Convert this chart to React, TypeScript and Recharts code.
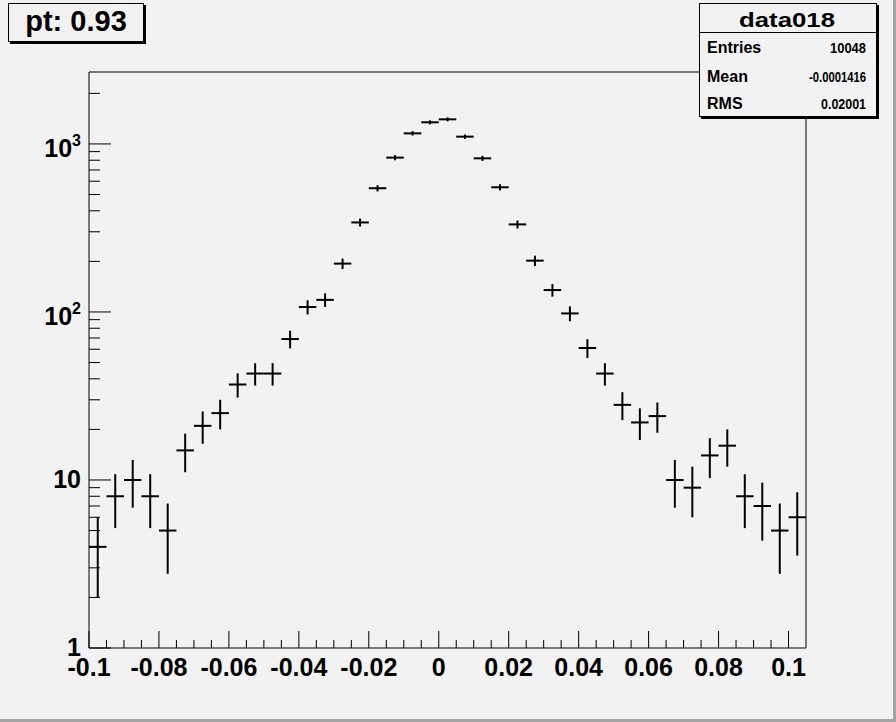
import { ComposedChart, Scatter, ErrorBar, XAxis, YAxis, ReferenceArea } from "recharts";

// bin centres (width 0.005) and entries per bin
const binCenters = [
  -0.0975, -0.0925, -0.0875, -0.0825, -0.0775, -0.0725, -0.0675, -0.0625, -0.0575, -0.0525,
  -0.0475, -0.0425, -0.0375, -0.0325, -0.0275, -0.0225, -0.0175, -0.0125, -0.0075, -0.0025,
  0.0025, 0.0075, 0.0125, 0.0175, 0.0225, 0.0275, 0.0325, 0.0375, 0.0425, 0.0475,
  0.0525, 0.0575, 0.0625, 0.0675, 0.0725, 0.0775, 0.0825, 0.0875, 0.0925, 0.0975, 0.1025,
];
const counts = [
  4, 8, 10, 8, 5, 15, 21, 25, 37, 43,
  43, 69, 107, 118, 194, 341, 545, 829, 1156, 1345,
  1401, 1105, 821, 552, 332, 202, 135, 98, 61, 43,
  28, 22, 24, 10, 9, 14, 16, 8, 7, 5, 6,
];
const halfBin = 0.0025;

const xMajor = [-0.1, -0.08, -0.06, -0.04, -0.02, 0, 0.02, 0.04, 0.06, 0.08, 0.1];
const xLabels = ["-0.1", "-0.08", "-0.06", "-0.04", "-0.02", "0", "0.02", "0.04", "0.06", "0.08", "0.1"];
const xMinor = xMajor.slice(0, -1).flatMap((m) => [1, 2, 3].map((k) => +(m + k * 0.005).toFixed(4)));

const yMajor = [1, 10, 100, 1000];
const yLabels = [["1", ""], ["10", ""], ["10", "2"], ["10", "3"]];
const yMinor = [2, 3, 4, 5, 6, 7, 8, 9, 20, 30, 40, 50, 60, 70, 80, 90, 200, 300, 400, 500, 600, 700, 800, 900, 2000];

const statLabels = ["Entries", "Mean", "RMS"];
const statValues = ["10048", "-0.0001416", "0.02001"];

const data = binCenters.map((x, i) => ({ x, y: counts[i], ex: halfBin, ey: Math.sqrt(counts[i]) }));

const FONT = "'Liberation Sans', Arial, Helvetica, sans-serif";

function XTick(props: any) {
  const { x, y, payload } = props;
  const i = xMajor.findIndex((m) => Math.abs(m - payload.value) < 1e-9);
  return (
    <g>
      <line x1={x} x2={x} y1={y} y2={y - (i >= 0 ? 17 : 8)} stroke="#000" />
      {i >= 0 && (
        <text x={x} y={y + 28} textAnchor="middle" fontFamily={FONT} fontWeight="bold" fontSize={25} fill="#000">
          {xLabels[i]}
        </text>
      )}
    </g>
  );
}

function YTick(props: any) {
  const { x, y, payload } = props;
  const i = yMajor.findIndex((m) => Math.abs(m - payload.value) < 1e-6);
  const [base, sup] = i >= 0 ? yLabels[i] : ["", ""];
  return (
    <g>
      <line x1={x} x2={x + (i >= 0 ? 22 : 11)} y1={y} y2={y} stroke="#000" />
      {i >= 0 && (
        <text x={81} y={y + (sup ? 13 : 8)} textAnchor="end" fontFamily={FONT} fontWeight="bold" fontSize={25} fill="#000">
          <tspan>{base}</tspan>
          {sup && (
            <tspan dy={-11} fontSize={16}>
              {sup}
            </tspan>
          )}
        </text>
      )}
    </g>
  );
}

function Boxes() {
  return (
    <svg width={896} height={722} style={{ position: "absolute", left: 0, top: 0, pointerEvents: "none" }}>
      <rect x={893} y={0} width={3} height={722} fill="#a4a4a4" />
      <rect x={0} y={719} width={896} height={3} fill="#a4a4a4" />

      <rect x={10} y={5} width={136} height={39} fill="#000" />
      <rect x={8.5} y={3.5} width={135} height={38} fill="#f2f2f2" stroke="#000" />
      <text x={76} y={31} textAnchor="middle" fontFamily={FONT} fontWeight="bold" fontSize={29} fill="#000">
        pt: 0.93
      </text>

      <rect x={701} y={5} width={178} height={114} fill="#000" />
      <rect x={699.5} y={3.5} width={177} height={113} fill="#f2f2f2" stroke="#000" />
      <line x1={699.5} x2={876.5} y1={32.5} y2={32.5} stroke="#000" />
      <text x={787} y={27} textAnchor="middle" fontFamily={FONT} fontWeight="bold" fontSize={21} textLength={96} lengthAdjust="spacingAndGlyphs" fill="#000">
        data018
      </text>
      {statLabels.map((l, i) => (
        <text key={l} x={707} y={[53, 82, 109][i]} fontFamily={FONT} fontWeight="bold" fontSize={16} fill="#000">
          {l}
        </text>
      ))}
      {statValues.map((v, i) => (
        <text key={v} x={866} y={[53, 82, 109][i]} textAnchor="end" fontFamily={FONT} fontWeight="bold" fontSize={15} textLength={[36, 57, 45][i]} lengthAdjust="spacingAndGlyphs" fill="#000">
          {v}
        </text>
      ))}
    </svg>
  );
}

export default function App() {
  return (
    <div style={{ position: "absolute", left: 0, top: 0, width: 896, height: 722, background: "#f2f2f2" }}>
      <ComposedChart width={896} height={722} data={data} margin={{ top: 72, right: 90, bottom: 0, left: 0 }}>
        <XAxis
          type="number"
          dataKey="x"
          domain={[-0.1, 0.105]}
          allowDataOverflow
          ticks={[...xMajor, ...xMinor]}
          interval={0}
          tickSize={0}
          tickMargin={0}
          axisLine={false}
          tickLine={false}
          tick={(p: any) => <XTick {...p} />}
          height={74}
        />
        <YAxis
          type="number"
          scale="log"
          domain={[1, 2680]}
          allowDataOverflow
          ticks={[...yMajor, ...yMinor]}
          interval={0}
          tickSize={0}
          tickMargin={0}
          axisLine={false}
          tickLine={false}
          tick={(p: any) => <YTick {...p} />}
          width={89}
        />
        <ReferenceArea x1={-0.1} x2={0.105} y1={1} y2={2680} fill="none" stroke="#000" strokeWidth={1} />
        <Scatter dataKey="y" isAnimationActive={false} shape={() => <g />}>
          <ErrorBar dataKey="ex" direction="x" width={0} stroke="#000" strokeWidth={2} isAnimationActive={false} />
          <ErrorBar dataKey="ey" direction="y" width={0} stroke="#000" strokeWidth={2} isAnimationActive={false} />
        </Scatter>
      </ComposedChart>
      <Boxes />
    </div>
  );
}
